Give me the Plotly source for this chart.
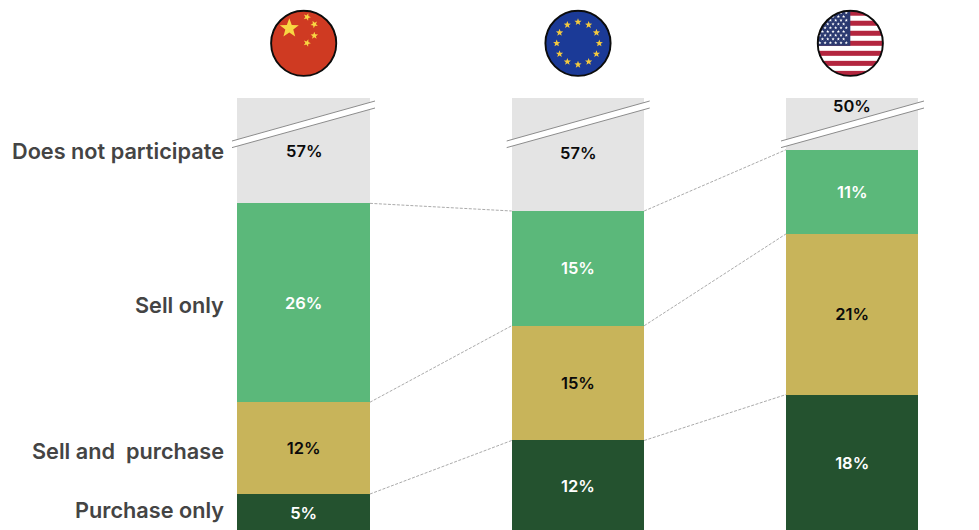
import base64
import math
import plotly.graph_objects as go

WIDTH, HEIGHT = 979, 530

# Share of firms per region, in percent
regions = ["China", "EU", "US"]
purchase_only = [5, 12, 18]
sell_and_purchase = [12, 15, 21]
sell_only = [26, 15, 11]
no_participation = [57, 57, 50]

segment_labels = ["Purchase only", "Sell and  purchase", "Sell only", "Does not participate"]

DARK, GOLD, GREEN, GREY = "#24522f", "#c8b45a", "#5bb87a", "#e4e4e4"
FONT = "Inter"
BAR_WIDTH = 0.483
xpos = [0, 1, 2]


def paper_x(px):
    return px / WIDTH


def paper_y(px):
    return 1 - px / HEIGHT


def star(cx, cy, r, rotate=0.0):
    pts = []
    for i in range(10):
        rad = r if i % 2 == 0 else r * 0.42
        a = math.radians(-90 + 36 * i + rotate)
        pts.append(f"{cx + rad * math.cos(a):.2f},{cy + rad * math.sin(a):.2f}")
    return f'<polygon points="{" ".join(pts)}"/>'


def svg_badge(body):
    svg = (
        '<svg xmlns="http://www.w3.org/2000/svg" width="272" height="272" viewBox="-34 -34 68 68">'
        '<defs><clipPath id="c"><circle r="32.6"/></clipPath></defs>'
        f'<g clip-path="url(#c)">{body}</g>'
        '<circle r="32.6" fill="none" stroke="#0c0c0c" stroke-width="1.9"/></svg>'
    )
    return "data:image/svg+xml;base64," + base64.b64encode(svg.encode()).decode()


def china_flag():
    body = '<rect x="-34" y="-34" width="68" height="68" fill="#cf3a22"/><g fill="#f8d743">'
    body += star(-14.4, -15, 10)
    for sx, sy, rot in [(3.3, -26.3, 20), (10.6, -19, 45), (10.6, -7.6, 0), (3.3, -0.3, 20)]:
        body += star(sx, sy, 3.9, rot)
    return svg_badge(body + "</g>")


def eu_flag():
    body = '<rect x="-34" y="-34" width="68" height="68" fill="#1b3a97"/><g fill="#f4c93e">'
    for i in range(12):
        a = math.radians(30 * i)
        body += star(21.3 * math.sin(a), -21.3 * math.cos(a), 3.8)
    return svg_badge(body + "</g>")


def us_flag():
    stripe = 65.2 / 13
    body = '<rect x="-34" y="-34" width="68" height="68" fill="#ffffff"/>'
    for i in range(0, 13, 2):
        body += f'<rect x="-34" y="{-32.6 + i * stripe:.2f}" width="68" height="{stripe:.2f}" fill="#b3263f"/>'
    body += f'<rect x="-34" y="-34" width="34" height="{1.4 + 7 * stripe:.2f}" fill="#2b3a70"/><g fill="#ffffff">'
    for row in range(9):
        count = 6 if row % 2 == 0 else 5
        offset = 0 if row % 2 == 0 else 2.65
        for col in range(count):
            body += star(-30.5 + offset + col * 5.3, -30.5 + row * 3.75, 1.7)
    return svg_badge(body + "</g>")


fig = go.Figure()


def add_segment(values, color, text_color, name):
    fig.add_bar(
        x=xpos,
        y=values,
        width=BAR_WIDTH,
        name=name,
        marker=dict(color=color, line=dict(width=0)),
        text=[f"{v}%" for v in values],
        textposition="inside",
        insidetextanchor="middle",
        textangle=0,
        constraintext="none",
        textfont=dict(family=FONT, size=16.5, color=text_color, weight=600),
        hoverinfo="skip",
    )


add_segment(purchase_only, DARK, "#ffffff", segment_labels[0])
add_segment(sell_and_purchase, GOLD, "#0a0a0a", segment_labels[1])
add_segment(sell_only, GREEN, "#ffffff", segment_labels[2])

# The grey segment runs past the top of the plot area and is cut off there
fig.add_bar(
    x=xpos,
    y=no_participation,
    width=BAR_WIDTH,
    name=segment_labels[3],
    marker=dict(color=GREY, line=dict(width=0)),
    hoverinfo="skip",
)

# Dashed connectors between the tops of matching segments
stacks = [purchase_only, sell_and_purchase, sell_only]
running = [0, 0, 0]
for values in stacks:
    running = [a + b for a, b in zip(running, values)]
    xs, ys = [], []
    for i in range(2):
        xs += [xpos[i] + BAR_WIDTH / 2, xpos[i + 1] - BAR_WIDTH / 2, None]
        ys += [running[i], running[i + 1], None]
    fig.add_scatter(
        x=xs,
        y=ys,
        mode="lines",
        line=dict(color="#ababab", width=1, dash="3px,1.5px"),
        hoverinfo="skip",
        showlegend=False,
    )

# Axis break drawn across each grey segment
shapes = []
for left in (232, 506.7, 781):
    right = left + 143
    x0, x1 = paper_x(left), paper_x(right)
    shapes.append(dict(
        type="path", xref="paper", yref="paper", layer="above",
        path=f"M{x0},{paper_y(141)} L{x1},{paper_y(101)} L{x1},{paper_y(108)} L{x0},{paper_y(147.6)} Z",
        fillcolor="#ffffff", line=dict(width=0),
    ))
    for ya, yb in ((141, 101), (147.6, 108)):
        shapes.append(dict(
            type="line", xref="paper", yref="paper", layer="above",
            x0=x0, y0=paper_y(ya), x1=x1, y1=paper_y(yb),
            line=dict(color="#8c8c8c", width=1),
        ))

annotations = []
for region_x, share, label_y in zip((303.7, 578.3, 852.2), no_participation, (151, 153, 106)):
    annotations.append(dict(
        x=paper_x(region_x), y=paper_y(label_y), xref="paper", yref="paper",
        text=f"{share}%", showarrow=False, xanchor="center", yanchor="middle",
        font=dict(family=FONT, size=16.5, color="#0a0a0a", weight=600),
    ))

for label, label_y in zip(segment_labels, (509.5, 451, 304.5, 150.5)):
    annotations.append(dict(
        x=paper_x(226), y=paper_y(label_y), xref="paper", yref="paper",
        text=label, showarrow=False, xanchor="right", yanchor="middle",
        font=dict(family=FONT, size=21.7, color="#444444", weight=600),
    ))

images = []
for source, centre_x in zip((china_flag(), eu_flag(), us_flag()), (303.7, 578, 850.3)):
    images.append(dict(
        source=source, xref="paper", yref="paper",
        x=paper_x(centre_x - 34), y=paper_y(43.3 - 34),
        sizex=68 / WIDTH, sizey=68 / HEIGHT,
        xanchor="left", yanchor="top", sizing="stretch", layer="above",
    ))

spacing = 274.25
first_centre = 303.7
fig.update_layout(
    width=WIDTH,
    height=HEIGHT,
    margin=dict(l=0, r=0, t=0, b=0),
    barmode="stack",
    showlegend=False,
    paper_bgcolor="#ffffff",
    plot_bgcolor="#ffffff",
    xaxis=dict(
        visible=False, domain=[0, 1],
        range=[-first_centre / spacing, (WIDTH - first_centre) / spacing],
    ),
    yaxis=dict(
        visible=False, domain=[0, paper_y(98)],
        range=[0.3, 56.77],
    ),
    shapes=shapes,
    annotations=annotations,
    images=images,
)

fig.write_html("out.html", config=dict(displayModeBar=False))
